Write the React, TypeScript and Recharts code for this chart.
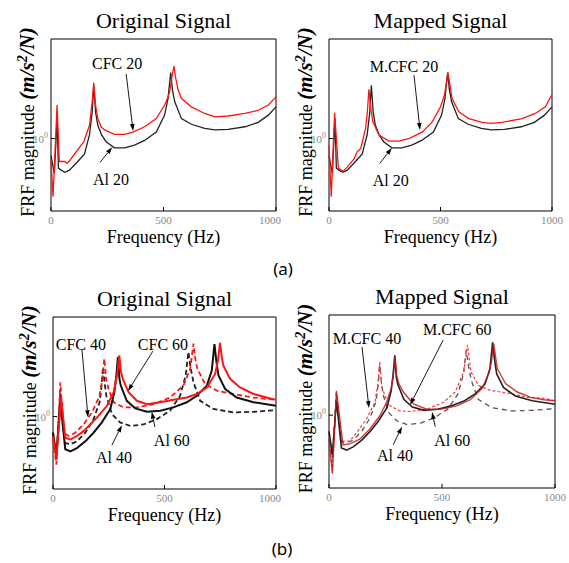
import React from 'react';
import {
  LineChart,
  Line,
  XAxis,
  YAxis,
  ReferenceArea,
  ReferenceLine,
  ReferenceDot,
} from 'recharts';

// FRF curves: frequency (Hz) and magnitude (m/s^2/N) per measurement
const al20Hz = [0, 15, 27, 33, 45, 62, 82, 119, 149, 171, 183, 190, 198, 208, 225, 245, 282, 327, 371, 416, 468, 505, 520, 532, 540, 550, 580, 624, 683, 728, 787, 862, 921, 966, 1000];
const al20Mag = [0.76, 0.57, 1.38, 0.62, 0.6, 0.58, 0.6, 0.69, 0.78, 1.06, 1.54, 2.37, 1.54, 1.24, 1.06, 0.95, 0.86, 0.86, 0.9, 0.97, 1.11, 1.46, 1.91, 2.91, 2.19, 1.81, 1.38, 1.26, 1.18, 1.15, 1.16, 1.21, 1.3, 1.46, 1.67];

const cfc20Hz = [0, 9, 27, 37, 60, 72, 86, 134, 146, 171, 183, 190, 198, 208, 223, 238, 282, 327, 364, 416, 468, 505, 520, 527, 539, 547, 553, 565, 580, 624, 683, 728, 787, 862, 921, 966, 1000];
const cfc20Mag = [0.72, 0.39, 1.72, 0.69, 0.69, 0.67, 0.71, 0.9, 0.95, 1.24, 1.81, 2.46, 1.72, 1.38, 1.21, 1.15, 1.07, 1.07, 1.11, 1.21, 1.38, 1.72, 1.96, 2.13, 2.79, 3.23, 2.72, 2.19, 1.91, 1.67, 1.5, 1.42, 1.44, 1.5, 1.58, 1.72, 1.96];

const mcfc20Hz = [0, 10, 25, 42, 63, 82, 112, 127, 142, 164, 172, 179, 187, 197, 224, 269, 313, 358, 418, 463, 500, 518, 533, 545, 552, 582, 627, 687, 724, 776, 866, 925, 970, 1000];
const mcfc20Mag = [0.9, 0.39, 1.52, 0.62, 0.59, 0.63, 0.72, 0.81, 0.85, 1.18, 1.54, 2.22, 1.63, 1.31, 1.06, 0.96, 0.96, 1.0, 1.11, 1.31, 1.67, 2.02, 2.91, 2.25, 1.91, 1.54, 1.38, 1.3, 1.28, 1.3, 1.38, 1.5, 1.67, 2.04];

const al40Hz = [0, 15, 33, 55, 78, 107, 145, 182, 209, 218, 224, 231, 239, 264, 301, 346, 406, 466, 525, 570, 595, 607, 618, 630, 660, 719, 809, 899, 1000];
const al40Mag = [0.77, 0.5, 1.48, 0.65, 0.64, 0.67, 0.77, 0.96, 1.26, 1.65, 2.22, 1.74, 1.4, 1.04, 0.91, 0.86, 0.88, 0.96, 1.1, 1.4, 1.94, 2.84, 2.16, 1.74, 1.29, 1.13, 1.07, 1.08, 1.11];

const cfc40Hz = [0, 15, 33, 48, 70, 100, 137, 175, 209, 221, 230, 238, 249, 272, 316, 376, 451, 525, 585, 615, 630, 640, 648, 682, 734, 809, 899, 1000];
const cfc40Mag = [0.69, 0.46, 1.74, 0.77, 0.73, 0.77, 0.88, 1.07, 1.4, 1.84, 2.55, 1.84, 1.56, 1.26, 1.16, 1.16, 1.22, 1.36, 1.65, 2.16, 3.25, 2.41, 2.16, 1.69, 1.52, 1.44, 1.36, 1.31];

const al60Hz = [0, 15, 33, 55, 78, 107, 145, 182, 219, 257, 275, 284, 291, 298, 304, 331, 369, 421, 481, 540, 600, 645, 690, 712, 724, 733, 742, 772, 824, 899, 1000];
const al60Mag = [0.77, 0.53, 1.26, 0.59, 0.57, 0.6, 0.67, 0.77, 0.91, 1.13, 1.48, 1.94, 2.62, 1.84, 1.65, 1.29, 1.14, 1.08, 1.1, 1.16, 1.26, 1.4, 1.65, 2.1, 3.22, 2.41, 1.94, 1.56, 1.36, 1.26, 1.19];

const cfc60Hz = [0, 15, 36, 55, 78, 107, 137, 167, 204, 242, 272, 287, 297, 305, 313, 339, 376, 421, 481, 540, 600, 645, 690, 727, 740, 749, 758, 764, 794, 839, 899, 958, 1000];
const cfc60Mag = [0.73, 0.5, 1.36, 0.71, 0.69, 0.73, 0.79, 0.88, 1.01, 1.19, 1.48, 1.94, 2.69, 2.05, 1.84, 1.48, 1.29, 1.22, 1.26, 1.31, 1.36, 1.44, 1.6, 1.99, 2.48, 3.29, 2.55, 2.28, 1.84, 1.6, 1.44, 1.36, 1.31];

const mcfc40Hz = [0, 15, 33, 55, 92, 121, 166, 203, 215, 225, 233, 247, 270, 314, 358, 433, 507, 558, 596, 613, 628, 662, 714, 803, 877, 951, 1000];
const mcfc40Mag = [0.68, 0.41, 1.45, 0.66, 0.66, 0.75, 0.94, 1.23, 1.61, 2.36, 1.61, 1.37, 1.16, 1.07, 1.06, 1.1, 1.23, 1.45, 2.0, 3.1, 2.0, 1.61, 1.49, 1.41, 1.33, 1.31, 1.26];

const mcfc60Hz = [0, 15, 33, 62, 92, 136, 181, 225, 255, 275, 285, 292, 299, 309, 329, 373, 433, 492, 566, 625, 677, 707, 720, 729, 738, 744, 781, 833, 892, 951, 1000];
const mcfc60Mag = [0.68, 0.39, 1.45, 0.62, 0.63, 0.68, 0.8, 0.99, 1.23, 1.53, 1.9, 2.56, 1.9, 1.66, 1.45, 1.2, 1.1, 1.1, 1.16, 1.28, 1.53, 1.95, 2.42, 3.15, 2.49, 2.12, 1.66, 1.45, 1.33, 1.28, 1.26];

const FREQ_TICKS = [0, 500, 1000];
const MAG_TICKS = [1];
const Y_MIN = 0.31;
const Y_MAX = 5;

const SERIF = '"Liberation Serif", "Times New Roman", serif';
const Y_AXIS_W = 20;
const X_AXIS_H = 20;

type Series = {
  name: string;
  hz: number[];
  mag: number[];
  color: string;
  width: number;
  dash?: string;
  opacity?: number;
};

type Note = {
  text: string;
  at: [number, number];
  from: [number, number];
  to: [number, number];
};

type PanelProps = {
  left: number;
  top: number;
  width: number;
  height: number;
  box: { l: number; t: number; r: number; b: number };
  title: string;
  series: Series[];
  notes: Note[];
};

const toPoints = (hz: number[], mag: number[]) =>
  hz.map((f, i) => ({ f, v: mag[i] }));

// leader line with a filled head at the (x2, y2) end
const Arrow = (p: any) => {
  const { x1, y1, x2, y2 } = p;
  const a = Math.atan2(y2 - y1, x2 - x1);
  const len = 7;
  const half = 2.3;
  const bx = x2 - len * Math.cos(a);
  const by = y2 - len * Math.sin(a);
  const nx = -Math.sin(a) * half;
  const ny = Math.cos(a) * half;
  return (
    <g>
      <line x1={x1} y1={y1} x2={bx} y2={by} stroke="#000" strokeWidth={0.9} />
      <polygon
        points={`${x2},${y2} ${bx + nx},${by + ny} ${bx - nx},${by - ny}`}
        fill="#000"
      />
    </g>
  );
};

const PowerTick = (p: any) => (
  <text
    x={p.x}
    y={p.y + 4}
    textAnchor="end"
    fontSize={11}
    fill="#888"
    fontFamily={SERIF}
  >
    10
    <tspan dy={-5} fontSize={8}>
      0
    </tspan>
  </text>
);

const Panel = ({ left, top, width, height, box, title, series, notes }: PanelProps) => {
  const cx = (box.l + box.r) / 2 - left;
  const cy = (box.t + box.b) / 2 - top - 3;
  const yl = box.l - left - 17;
  return (
    <div style={{ position: 'absolute', left, top, width, height, overflow: 'hidden' }}>
      <LineChart
        width={width}
        height={height}
        margin={{
          top: box.t - top,
          right: left + width - box.r,
          bottom: top + height - box.b - X_AXIS_H,
          left: box.l - left - Y_AXIS_W,
        }}
      >
        <XAxis
          type="number"
          dataKey="f"
          domain={[0, 1000]}
          ticks={FREQ_TICKS}
          height={X_AXIS_H}
          axisLine={false}
          tickSize={-4}
          tickMargin={9}
          tickLine={{ stroke: '#000' }}
          tick={{ fill: '#888', fontSize: 11, fontFamily: SERIF }}
        />
        <YAxis
          type="number"
          scale="log"
          domain={[Y_MIN, Y_MAX]}
          ticks={MAG_TICKS}
          width={Y_AXIS_W}
          axisLine={false}
          tickSize={-4}
          tickMargin={7}
          tickLine={{ stroke: '#000' }}
          tick={<PowerTick />}
        />
        <ReferenceArea
          x1={0}
          x2={1000}
          y1={Y_MIN}
          y2={Y_MAX}
          fill="none"
          stroke="#000"
          strokeWidth={1}
        />
        {series.map((s) => (
          <Line
            key={s.name}
            name={s.name}
            data={toPoints(s.hz, s.mag)}
            dataKey="v"
            type="linear"
            stroke={s.color}
            strokeWidth={s.width}
            strokeDasharray={s.dash}
            strokeOpacity={s.opacity ?? 1}
            dot={false}
            activeDot={false}
            isAnimationActive={false}
          />
        ))}
        {notes.map((n) => (
          <ReferenceLine
            key={`arrow-${n.text}`}
            segment={[
              { x: n.from[0], y: n.from[1] },
              { x: n.to[0], y: n.to[1] },
            ]}
            shape={Arrow}
          />
        ))}
        {notes.map((n) => (
          <ReferenceDot
            key={`label-${n.text}`}
            x={n.at[0]}
            y={n.at[1]}
            r={0}
            shape={(p: any) => (
              <text
                x={p.cx}
                y={p.cy}
                textAnchor="middle"
                dominantBaseline="central"
                fontSize={16}
                fontFamily={SERIF}
                fill="#000"
              >
                {n.text}
              </text>
            )}
          />
        ))}
      </LineChart>
      <svg
        width={width}
        height={height}
        style={{ position: 'absolute', left: 0, top: 0, pointerEvents: 'none' }}
      >
        <text x={cx} y={box.t - top - 11} textAnchor="middle" fontSize={22} fontFamily={SERIF}>
          {title}
        </text>
        <text x={cx} y={box.b - top + 32} textAnchor="middle" fontSize={18} fontFamily={SERIF}>
          Frequency (Hz)
        </text>
        <text
          x={yl}
          y={cy}
          transform={`rotate(-90 ${yl} ${cy})`}
          textAnchor="middle"
          fontSize={18}
          fontFamily={SERIF}
        >
          FRF magnitude{' '}
          <tspan fontWeight="bold" fontStyle="italic" fontSize={21}>
            (m/s
            <tspan dy={-7} fontSize={14}>
              2
            </tspan>
            <tspan dy={7}>/N)</tspan>
          </tspan>
        </text>
      </svg>
    </div>
  );
};

const RED = '#ff1414';
const BLACK = '#222';

const panels: PanelProps[] = [
  {
    left: 0,
    top: 0,
    width: 281,
    height: 255,
    box: { l: 51, t: 39, r: 276, b: 211 },
    title: 'Original Signal',
    series: [
      { name: 'Al 20', hz: al20Hz, mag: al20Mag, color: BLACK, width: 1.3 },
      { name: 'CFC 20', hz: cfc20Hz, mag: cfc20Mag, color: RED, width: 1.3 },
    ],
    notes: [
      { text: 'CFC 20', at: [294, 3.39], from: [334, 2.84], to: [365, 1.13] },
      { text: 'Al 20', at: [267, 0.52], from: [218, 0.68], to: [272, 0.87] },
    ],
  },
  {
    left: 281,
    top: 0,
    width: 288,
    height: 255,
    box: { l: 329, t: 39, r: 552, b: 211 },
    title: 'Mapped Signal',
    series: [
      { name: 'Al 20', hz: al20Hz, mag: al20Mag, color: BLACK, width: 1.3 },
      { name: 'M.CFC 20', hz: mcfc20Hz, mag: mcfc20Mag, color: RED, width: 1.3 },
    ],
    notes: [
      { text: 'M.CFC 20', at: [336, 3.23], from: [381, 2.79], to: [408, 1.15] },
      { text: 'Al 20', at: [277, 0.51], from: [228, 0.67], to: [282, 0.86] },
    ],
  },
  {
    left: 0,
    top: 285,
    width: 281,
    height: 250,
    box: { l: 53, t: 317, r: 276, b: 489 },
    title: 'Original Signal',
    series: [
      { name: 'Al 40', hz: al40Hz, mag: al40Mag, color: BLACK, width: 1.8, dash: '5 3' },
      { name: 'CFC 40', hz: cfc40Hz, mag: cfc40Mag, color: RED, width: 1.8, dash: '5 3' },
      { name: 'Al 60', hz: al60Hz, mag: al60Mag, color: '#111', width: 2 },
      { name: 'CFC 60', hz: cfc60Hz, mag: cfc60Mag, color: RED, width: 2 },
    ],
    notes: [
      { text: 'CFC 40', at: [125, 3.23], from: [130, 2.93], to: [157, 0.99] },
      { text: 'CFC 60', at: [493, 3.23], from: [448, 2.88], to: [336, 1.51] },
      { text: 'Al 40', at: [273, 0.52], from: [264, 0.63], to: [309, 0.87] },
      { text: 'Al 60', at: [533, 0.675], from: [457, 0.845], to: [443, 1.08] },
    ],
  },
  {
    left: 281,
    top: 285,
    width: 288,
    height: 250,
    box: { l: 329, t: 315, r: 555, b: 488 },
    title: 'Mapped Signal',
    series: [
      { name: 'Al 40', hz: al40Hz, mag: al40Mag, color: '#555', width: 1.3, dash: '5 4' },
      { name: 'M.CFC 40', hz: mcfc40Hz, mag: mcfc40Mag, color: '#ff3c3c', width: 1.2, dash: '3 2' },
      { name: 'Al 60', hz: al60Hz, mag: al60Mag, color: BLACK, width: 1.6 },
      { name: 'M.CFC 60', hz: mcfc60Hz, mag: mcfc60Mag, color: '#c81818', width: 1.4, opacity: 0.85 },
    ],
    notes: [
      { text: 'M.CFC 40', at: [168, 3.45], from: [146, 2.99], to: [177, 1.12] },
      { text: 'M.CFC 60', at: [567, 3.99], from: [505, 3.34], to: [359, 1.18] },
      { text: 'Al 40', at: [292, 0.52], from: [284, 0.62], to: [323, 0.83] },
      { text: 'Al 60', at: [545, 0.66], from: [470, 0.83], to: [456, 1.05] },
    ],
  },
];

const captionStyle: React.CSSProperties = {
  position: 'absolute',
  transform: 'translate(-50%, -50%)',
  fontFamily: '"Noto Sans", "Open Sans", sans-serif',
  fontSize: 17,
  color: '#000',
};

export default function App() {
  return (
    <div
      style={{
        position: 'absolute',
        left: 0,
        top: 0,
        width: 569,
        height: 563,
        background: '#fff',
        overflow: 'hidden',
      }}
    >
      {panels.map((p, i) => (
        <Panel key={i} {...p} />
      ))}
      <div style={{ ...captionStyle, left: 283, top: 268 }}>(a)</div>
      <div style={{ ...captionStyle, left: 282, top: 548 }}>(b)</div>
    </div>
  );
}
